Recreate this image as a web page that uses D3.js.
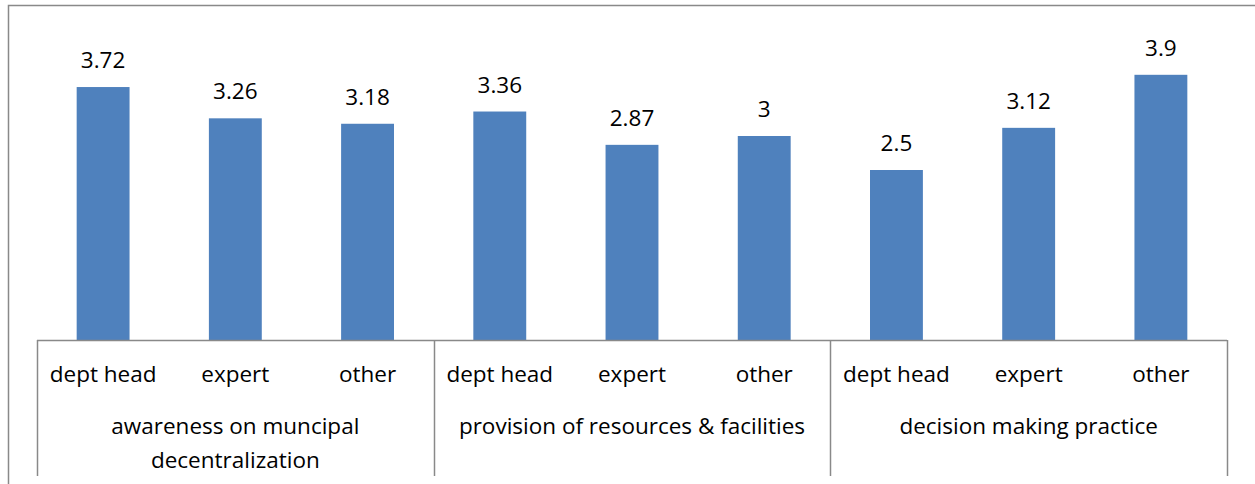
<!DOCTYPE html>
<html>
<head>
<meta charset="utf-8">
<script src="https://cdn.jsdelivr.net/npm/d3@7"></script>
<style>
  html, body { margin: 0; padding: 0; background: #fff; overflow: hidden; }
  svg { display: block; }
</style>
</head>
<body>
<div id="chart"></div>
<script>
// chart data
var groups = ["awareness on muncipal decentralization", "provision of resources & facilities", "decision making practice"]
var groupLines = [["awareness on muncipal", "decentralization"], ["provision of resources & facilities"], ["decision making practice"]]
var roles = ["dept head", "expert", "other"]
var values = [3.72, 3.26, 3.18, 3.36, 2.87, 3, 2.5, 3.12, 3.9]

var width = 1255
var height = 484
var font = "'Open Sans', 'Liberation Sans', sans-serif"
var fontSize = "22.5px"

// flat list of bars: one per group x role
var bars = []
groups.forEach(function(g, gi) {
  roles.forEach(function(r, ri) {
    bars.push({ key: gi + "-" + r, group: gi, role: r, value: values[gi * roles.length + ri] })
  })
})

var svg = d3.select("#chart").append("svg")
  .attr("width", width)
  .attr("height", height)

// outer chart frame (right and bottom edges fall outside the crop)
svg.append("path")
  .attr("d", "M8.5," + height + "V5.5H" + width)
  .attr("fill", "none")
  .attr("stroke", "#898989")
  .attr("stroke-width", 1.5)

var x = d3.scaleBand()
  .domain(bars.map(function(d) { return d.key }))
  .range([37, 1227])
  .paddingInner(0.6)
  .paddingOuter(0.3)

var y = d3.scaleLinear()
  .domain([0, 4.5])
  .range([340, 34])

svg.selectAll("rect.bar")
  .data(bars)
  .enter()
  .append("rect")
  .attr("class", "bar")
  .attr("x", function(d) { return x(d.key) })
  .attr("y", function(d) { return y(d.value) })
  .attr("width", x.bandwidth())
  .attr("height", function(d) { return y(0) - y(d.value) })
  .attr("fill", "#4F81BD")

svg.selectAll("text.value")
  .data(bars)
  .enter()
  .append("text")
  .attr("class", "value")
  .attr("x", function(d) { return x(d.key) + x.bandwidth() / 2 })
  .attr("y", function(d) { return y(d.value) - 19 })
  .attr("text-anchor", "middle")
  .style("font-family", font)
  .style("font-size", fontSize)
  .style("fill", "#000")
  .text(function(d) { return d3.format("")(d.value) })

// multi-level category axis
var axis = svg.append("g").attr("class", "axis")
var step = x.step()
var groupEdge = function(gi) { return 37 + gi * roles.length * step }

axis.append("line")
  .attr("x1", 37).attr("x2", 1227)
  .attr("y1", 340.5).attr("y2", 340.5)
  .attr("stroke", "#898989")
  .attr("stroke-width", 1.5)

axis.selectAll("line.sep")
  .data(d3.range(groups.length + 1))
  .enter()
  .append("line")
  .attr("class", "sep")
  .attr("x1", function(gi) { return Math.round(groupEdge(gi)) + 0.5 })
  .attr("x2", function(gi) { return Math.round(groupEdge(gi)) + 0.5 })
  .attr("y1", 340)
  .attr("y2", 476)
  .attr("stroke", "#898989")
  .attr("stroke-width", 1.5)

axis.selectAll("text.role")
  .data(bars)
  .enter()
  .append("text")
  .attr("class", "role")
  .attr("x", function(d) { return x(d.key) + x.bandwidth() / 2 })
  .attr("y", 382)
  .attr("text-anchor", "middle")
  .style("font-family", font)
  .style("font-size", fontSize)
  .style("fill", "#000")
  .text(function(d) { return d.role })

var groupLabels = axis.selectAll("text.group")
  .data(groupLines)
  .enter()
  .append("text")
  .attr("class", "group")
  .attr("text-anchor", "middle")
  .style("font-family", font)
  .style("font-size", fontSize)
  .style("fill", "#000")

groupLabels.selectAll("tspan")
  .data(function(lines, gi) { return lines.map(function(l) { return { text: l, gi: gi } }) })
  .enter()
  .append("tspan")
  .attr("x", function(d) { return (groupEdge(d.gi) + groupEdge(d.gi + 1)) / 2 })
  .attr("y", function(d, i) { return 434 + i * 34 })
  .text(function(d) { return d.text })
</script>
</body>
</html>
